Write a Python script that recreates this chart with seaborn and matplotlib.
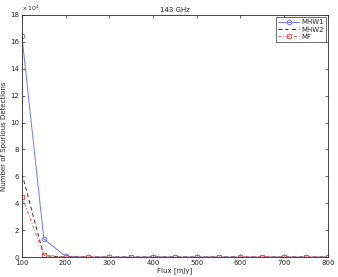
import numpy as np
import pandas as pd
import matplotlib
matplotlib.use("Agg")
import matplotlib.pyplot as plt
import seaborn as sns

# -----------------------------
# Data (units of 1e4)
# -----------------------------
flux = [100, 150, 200, 250, 300, 350, 400, 450, 500, 550, 600, 650, 700, 750, 800]
mhw1 = [16.4, 1.35, 0.05, 0, 0, 0, 0, 0, 0, 0, 0, 0, 0, 0, 0]
mhw2 = [6.2, 0.1, 0, 0, 0, 0, 0, 0, 0, 0, 0, 0, 0, 0, 0]
mf = [4.5, 0.15, 0, 0, 0, 0, 0, 0, 0, 0, 0, 0, 0, 0, 0]

df = pd.DataFrame({"flux": flux, "MHW1": mhw1, "MHW2": mhw2, "MF": mf})

sns.set_style("ticks")
plt.rcParams["font.family"] = ["DejaVu Sans"]

fig = plt.figure(figsize=(3.38, 2.77), dpi=100)
ax = fig.add_axes([0.065, 0.072, 0.905, 0.874])

sns.lineplot(data=df, x="flux", y="MHW1", ax=ax, color="#6b7bff", lw=0.7,
             marker="o", markersize=3.3, markerfacecolor="none",
             markeredgecolor="#6b7bff", markeredgewidth=0.7, label="MHW1")
sns.lineplot(data=df, x="flux", y="MHW2", ax=ax, color="#333333", lw=0.7,
             linestyle=(0, (4, 3)), marker="x", markersize=2.5,
             markeredgewidth=0.7, label="MHW2")
sns.lineplot(data=df, x="flux", y="MF", ax=ax, color="#ff5050", lw=0.7,
             linestyle=(0, (3, 2, 1, 2)), marker="s", markersize=3, markerfacecolor="none",
             markeredgecolor="#ff5050", markeredgewidth=0.7, label="MF")

ax.set_xlim(100, 800)
ax.set_ylim(0, 18)
ax.set_xticks(range(100, 801, 100))
ax.set_yticks(range(0, 19, 2))
ax.tick_params(labelsize=5, direction="in", length=2.5, width=0.5, top=True, right=True, pad=2)
for s in ax.spines.values():
    s.set_linewidth(0.6)
    s.set_visible(True)

ax.set_title("143 GHz", fontsize=5, pad=2)
ax.set_xlabel("Flux [mJy]", fontsize=5, labelpad=1)
ax.set_ylabel("Number of Spurious Detections", fontsize=5, labelpad=2)
ax.text(0.0, 1.01, "x 10$^4$", transform=ax.transAxes, fontsize=4.5, va="bottom", ha="left")

leg = ax.legend(loc="upper right", fontsize=5, frameon=True, fancybox=False,
                edgecolor="black", handlelength=3, borderpad=0.3, labelspacing=0.2,
                handletextpad=0.3, borderaxespad=0.3)
leg.get_frame().set_linewidth(0.5)

fig.savefig("out.png", dpi=100)
